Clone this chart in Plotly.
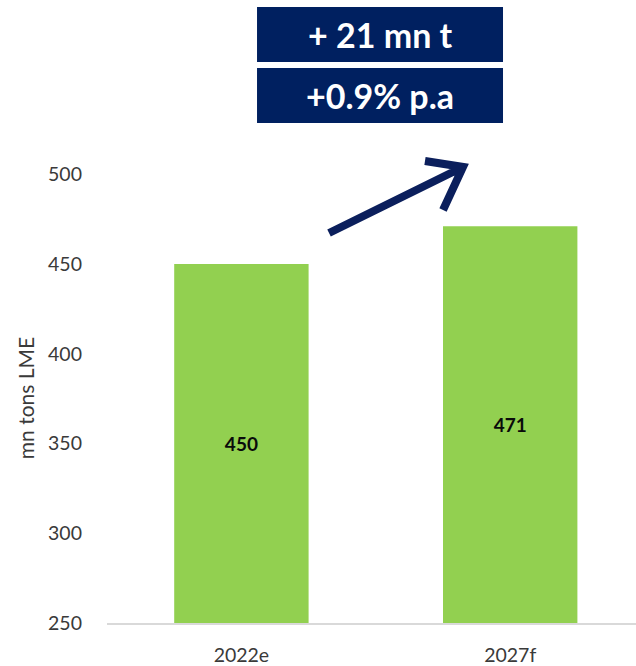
import plotly.graph_objects as go

# Aluminium demand, mn tons LME
categories = ["2022e", "2027f"]
values = [450, 471]
value_labels = ["450", "471"]
y_ticks = [250, 300, 350, 400, 450, 500]
y_title = "mn tons LME"
headline = "+ 21 mn t"
growth = "+0.9% p.a"

BAR_GREEN = "#92D050"
NAVY = "#002060"
ARROW_NAVY = "#0B1F5C"
TEXT_GREY = "#3A3A3A"
BASE = 250

fig = go.Figure(
    go.Bar(
        x=categories,
        y=[v - BASE for v in values],
        base=BASE,
        text=value_labels,
        textposition="inside",
        insidetextanchor="middle",
        textangle=0,
        textfont=dict(family="Lato", size=19, color="#0A0A0A", weight="bold"),
        marker=dict(color=BAR_GREEN, line=dict(width=0)),
        width=0.5,
        hoverinfo="skip",
    )
)

# growth arrow between the two bars (paper coordinates)
tail = (0.4197, 0.7753)
head = (0.6730, 0.9066)
wing_a = (0.6011, 0.9185)
wing_b = (0.6352, 0.8211)
arrow_path = (
    f"M {tail[0]},{tail[1]} L {head[0]},{head[1]} "
    f"M {wing_a[0]},{wing_a[1]} L {head[0]},{head[1]} L {wing_b[0]},{wing_b[1]}"
)

shapes = [
    dict(type="path", path=arrow_path, xref="paper", yref="paper",
         line=dict(color=ARROW_NAVY, width=8), layer="above"),
    dict(type="rect", xref="paper", yref="paper", x0=0.2836, x1=0.7486,
         y0=1.1153, y1=1.2247, fillcolor=NAVY, line=dict(width=0), layer="above"),
    dict(type="rect", xref="paper", yref="paper", x0=0.2836, x1=0.7486,
         y0=0.9940, y1=1.1034, fillcolor=NAVY, line=dict(width=0), layer="above"),
]

annotations = [
    dict(text=headline, xref="paper", yref="paper", x=0.5161, y=1.1700,
         showarrow=False, xanchor="center", yanchor="middle",
         font=dict(family="Lato", size=34, color="white", weight="bold")),
    dict(text=growth, xref="paper", yref="paper", x=0.5161, y=1.0487,
         showarrow=False, xanchor="center", yanchor="middle",
         font=dict(family="Lato", size=34, color="white", weight="bold")),
    # vertical axis title
    dict(text=y_title, xref="paper", yref="paper", x=-0.155, y=0.447,
         showarrow=False, xanchor="center", yanchor="middle", textangle=-90,
         font=dict(family="Lato", size=21, color=TEXT_GREY)),
]

fig.update_layout(
    width=636,
    height=666,
    margin=dict(l=107, r=0, t=120, b=43),
    paper_bgcolor="white",
    plot_bgcolor="white",
    showlegend=False,
    shapes=shapes,
    annotations=annotations,
    font=dict(family="Lato", color=TEXT_GREY),
    xaxis=dict(
        range=[-0.5, 1.468],
        showgrid=False,
        showline=True,
        linecolor="#D9D9D9",
        linewidth=1.5,
        ticks="",
        tickfont=dict(family="Lato", size=19.5, color=TEXT_GREY),
        ticklabelstandoff=14,
        fixedrange=True,
    ),
    yaxis=dict(
        range=[250, 530.2],
        tickvals=y_ticks,
        showgrid=False,
        zeroline=False,
        showline=False,
        ticks="",
        tickfont=dict(family="Lato", size=19.5, color=TEXT_GREY),
        ticklabelstandoff=24,
        fixedrange=True,
    ),
)

fig.write_html("out.html")
